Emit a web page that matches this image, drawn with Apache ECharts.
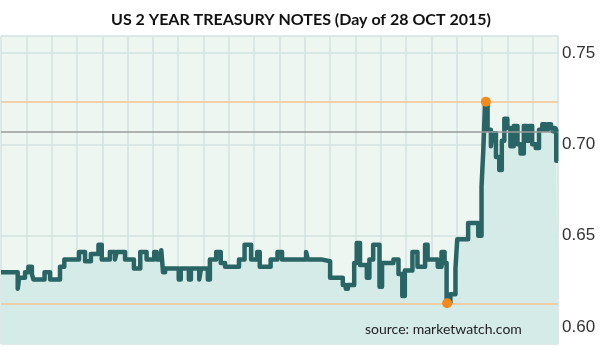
<!DOCTYPE html>
<html>
<head>
<meta charset="utf-8">
<script src="https://cdn.jsdelivr.net/npm/echarts@6/dist/echarts.min.js"></script>
<style>
  html, body { margin: 0; padding: 0; background: #fff; }
  #chart { width: 602px; height: 351px; }
</style>
</head>
<body>
<div id="chart"></div>
<script>
/* US 2Y treasury intraday, 28 Oct 2015 — step line */

// hours into the session (22 grid columns) at which the quote changes
const times = [
  0.00, 0.66, 0.72, 0.95, 1.08, 1.22, 1.28, 1.72, 1.94, 2.33,
  2.50, 3.08, 3.32, 3.55, 3.85, 3.98, 4.30, 4.50, 4.57, 4.90,
  5.25, 5.50, 5.75, 6.05, 6.15, 6.33, 6.40, 6.48, 7.02, 7.10,
  7.42, 7.50, 7.83, 7.90, 8.17, 8.25, 8.50, 8.68, 8.85, 9.40,
  9.62, 9.88, 10.12, 10.22, 10.65, 10.92, 11.10, 12.05, 12.12, 12.65,
  13.00, 13.50, 13.62, 13.70, 13.95, 14.05, 14.18, 14.45, 14.55, 14.70,
  14.95, 15.05, 15.50, 15.70, 15.85, 15.95, 16.25, 16.45, 16.75, 16.85,
  17.25, 17.40, 17.52, 17.60, 17.75, 17.95, 18.02, 18.45, 18.85, 18.98,
  19.05, 19.12, 19.22, 19.35, 19.42, 19.55, 19.68, 19.78, 19.88, 20.00,
  20.12, 20.25, 20.40, 20.52, 20.65, 20.78, 20.86, 20.98, 21.12, 21.25,
  21.38, 21.50, 21.60, 21.72, 21.85, 21.93, 22.00
];
const yields = [
  0.630, 0.621, 0.627, 0.630, 0.633, 0.629, 0.626, 0.630, 0.626, 0.633,
  0.637, 0.641, 0.636, 0.640, 0.645, 0.637, 0.641, 0.637, 0.641, 0.637,
  0.632, 0.641, 0.637, 0.641, 0.637, 0.642, 0.630, 0.632, 0.626, 0.632,
  0.626, 0.632, 0.626, 0.632, 0.626, 0.637, 0.641, 0.635, 0.633, 0.637,
  0.645, 0.637, 0.641, 0.633, 0.637, 0.641, 0.637, 0.641, 0.637, 0.636,
  0.627, 0.623, 0.621, 0.623, 0.635, 0.646, 0.634, 0.627, 0.637, 0.645,
  0.622, 0.635, 0.637, 0.629, 0.617, 0.631, 0.641, 0.633, 0.645, 0.637,
  0.633, 0.641, 0.635, 0.613, 0.618, 0.632, 0.648, 0.657, 0.650, 0.677,
  0.697, 0.723, 0.708, 0.699, 0.706, 0.693, 0.686, 0.702, 0.714, 0.709,
  0.699, 0.710, 0.700, 0.695, 0.710, 0.702, 0.710, 0.700, 0.698, 0.708,
  0.711, 0.708, 0.711, 0.709, 0.708, 0.691, 0.691
];

const dayHigh = [19.15, 0.7233];
const dayLow = [17.62, 0.6130];
const lastQuote = [21.85, 0.708];
const prevClose = 0.7069;

const C = {
  plot: "#eef6f2",
  grid: "#d3e3e1",
  fill: "#d4ebe7",
  line: "#2a6566",
  orange: "#f6c390",
  dot: "#f28a1c",
  close: "#9a9a9a",
  text: "#333333",
};

const chart = echarts.init(document.getElementById("chart"), null, { renderer: "canvas" });
chart.setOption({
  animation: false,
  title: {
    text: "US 2 YEAR TREASURY NOTES (Day of 28 OCT 2015)",
    left: "center", top: 7,
    textStyle: { fontFamily: "Lato", fontWeight: "bold", fontSize: 16, color: "#111" },
  },
  grid: {
    left: 1, right: 44, top: 36, bottom: 7,
    show: true, backgroundColor: C.plot, borderWidth: 0,
  },
  xAxis: {
    type: "value", min: 0, max: 22, interval: 1,
    axisLine: { show: false }, axisTick: { show: false }, axisLabel: { show: false },
    splitLine: { lineStyle: { color: C.grid, width: 1.5 } },
  },
  yAxis: {
    type: "value", position: "right", min: 0.5907, max: 0.7593, splitNumber: 3,
    axisLine: { show: false }, axisTick: { show: false },
    axisLabel: {
      showMinLabel: false, showMaxLabel: false, margin: 4,
      color: C.text, fontFamily: "Liberation Sans", fontSize: 17,
      formatter: (v) => v.toFixed(2),
    },
    splitLine: { lineStyle: { color: C.grid, width: 1.5 } },
  },
  series: [
    {
      type: "line",
      step: "end",
      symbol: "none",
      data: times.map((t, i) => [t, yields[i]]),
      lineStyle: { color: C.line, width: 4.5, join: "round" },
      areaStyle: { color: C.fill, opacity: 1, origin: "start" },
      z: 3,
      markLine: {
        silent: true, symbol: "none", precision: 4, label: { show: false },
        data: [
          { yAxis: dayHigh[1], lineStyle: { color: C.orange, width: 1.5, type: "solid" } },
          { yAxis: dayLow[1], lineStyle: { color: C.orange, width: 1.5, type: "solid" } },
          { yAxis: prevClose, lineStyle: { color: C.close, width: 1.5, type: "solid" } },
        ],
      },
    },
    {
      type: "scatter",
      symbolSize: 10,
      data: [dayHigh, dayLow],
      itemStyle: { color: C.dot, opacity: 1 },
      z: 5,
    },
    {
      type: "scatter",
      symbolSize: 8,
      data: [lastQuote],
      itemStyle: { color: C.line },
      z: 5,
    },
  ],
  graphic: [{
    type: "text", left: 365, top: 322, z: 10,
    style: { text: "source: marketwatch.com", fill: "#222", fontFamily: "Lato", fontSize: 14 },
  }],
});
</script>
</body>
</html>
